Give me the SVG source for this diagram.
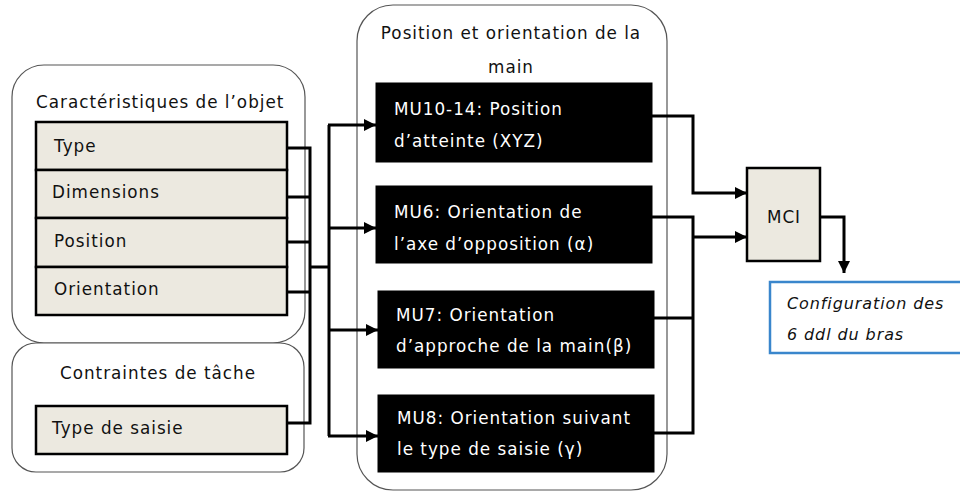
<svg xmlns="http://www.w3.org/2000/svg" width="960" height="492" viewBox="0 0 960 492">
<defs>
<marker id="ah" markerWidth="4" markerHeight="4" refX="4" refY="2" orient="auto" markerUnits="strokeWidth">
<path d="M0,0 L4,2 L0,4 Z" fill="#000"/>
</marker>
<style>
.grp{fill:#fff;stroke:#555;stroke-width:1.2}
.item{fill:#ECE9E0;stroke:#000;stroke-width:2.5}
.mu{fill:#000;stroke:#000}
.t{font-family:"DejaVu Sans","Open Sans",sans-serif;font-size:16.8px;letter-spacing:1px;fill:#111}
.w{fill:#fff}
.i{font-style:italic;font-size:16px;letter-spacing:0.9px}
.c{fill:none;stroke:#000;stroke-width:3}
.a{fill:none;stroke:#000;stroke-width:3;marker-end:url(#ah)}
</style>
</defs>
<rect width="960" height="492" fill="#fff"/>
<g id="objet">
<rect class="grp" x="12" y="65" width="293" height="278" rx="32"/>
<text class="t" x="36" y="108">Caractéristiques de l’objet</text>
</g>
<g id="type"><rect class="item" x="36" y="122" width="251" height="48"/><text class="t" x="54" y="152">Type</text></g>
<g id="dimensions"><rect class="item" x="36" y="170" width="251" height="48"/><text class="t" x="52" y="198">Dimensions</text></g>
<g id="position"><rect class="item" x="36" y="218" width="251" height="49"/><text class="t" x="54" y="247">Position</text></g>
<g id="orientation"><rect class="item" x="36" y="267" width="251" height="48"/><text class="t" x="54" y="295">Orientation</text></g>
<g id="contraintes">
<rect class="grp" x="12" y="343" width="292" height="129" rx="24"/>
<text class="t" x="158" y="379" text-anchor="middle">Contraintes de tâche</text>
</g>
<g id="saisie"><rect class="item" x="36" y="406" width="251" height="48"/><text class="t" x="52" y="434">Type de saisie</text></g>
<g id="main">
<rect class="grp" x="357" y="5" width="310" height="485" rx="36"/>
<text class="t" x="511" y="39" text-anchor="middle">Position et orientation de la</text>
<text class="t" x="511" y="73" text-anchor="middle">main</text>
</g>
<g id="mu1014"><rect class="mu" x="376" y="83" width="276" height="79"/><text class="t w" x="394" y="115">MU10-14: Position</text><text class="t w" x="394" y="147">d’atteinte (XYZ)</text></g>
<g id="mu6"><rect class="mu" x="376" y="186" width="276" height="77"/><text class="t w" x="394" y="218">MU6: Orientation de</text><text class="t w" x="394" y="250">l’axe d’opposition (α)</text></g>
<g id="mu7"><rect class="mu" x="378" y="291" width="276" height="77"/><text class="t w" x="396" y="321">MU7: Orientation</text><text class="t w" x="396" y="352">d’approche de la main(β)</text></g>
<g id="mu8"><rect class="mu" x="378" y="395" width="276" height="77"/><text class="t w" x="397" y="424">MU8: Orientation suivant</text><text class="t w" x="397" y="455">le type de saisie (γ)</text></g>
<g id="mci"><rect class="item" x="747" y="168" width="73" height="93"/><text class="t" x="784" y="223" text-anchor="middle">MCI</text></g>
<g id="config">
<rect x="770" y="282" width="200" height="71" fill="#fff" stroke="#3A86CC" stroke-width="2.5"/>
<text class="t i" x="787" y="309">Configuration des</text>
<text class="t i" x="787" y="340">6 ddl du bras</text>
</g>
<g id="connectors">
<path class="c" d="M287,148 H310 M287,197 H310 M287,242 H310 M287,292 H310 M287,423 H310 M310,146.5 V424.5 M310,267 H329 M329,125 V436"/>
<path class="a" d="M328,125 H376"/>
<path class="a" d="M328,228 H376"/>
<path class="a" d="M328,330 H378"/>
<path class="a" d="M328,436 H378"/>
<path class="a" d="M652,116 H693 V193 H747"/>
<path class="c" d="M652,217 H693 M654,318 H693 M654,433 H693 M693,215.5 V434.5"/>
<path class="a" d="M693,237 H747"/>
<path class="a" d="M820,217 H844 V273"/>
</g>
</svg>
